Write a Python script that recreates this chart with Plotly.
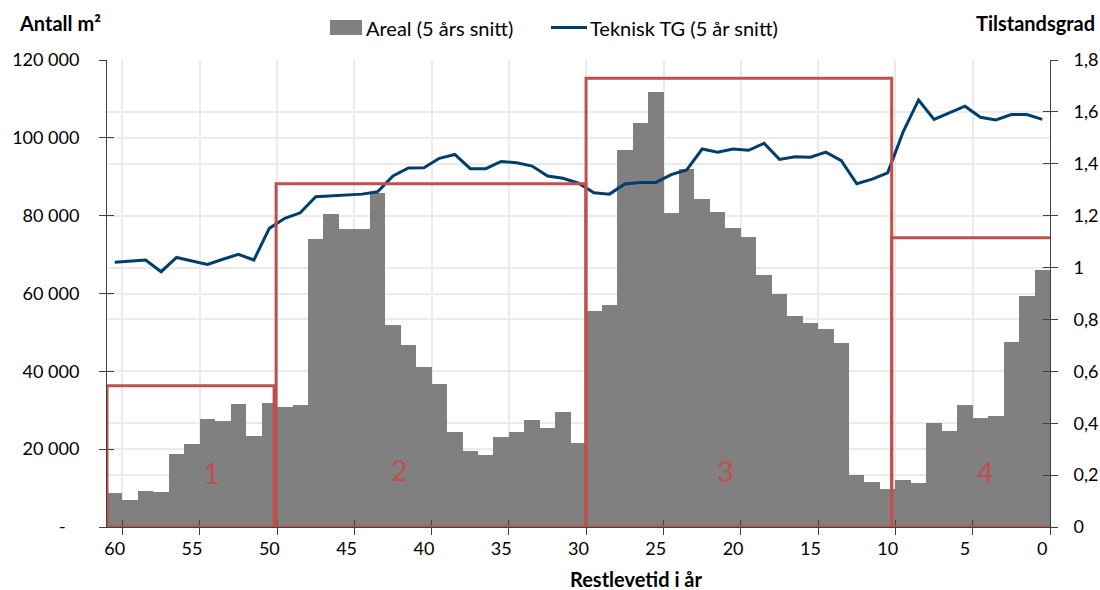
import plotly.graph_objects as go

# ---------------- data ----------------
years = list(range(60, -1, -1))  # Restlevetid i år, 60 .. 0

areal = [8700, 7000, 9250, 9000, 18800, 21300, 27700, 27200, 31500, 23400,
         31800, 30800, 31300, 73900, 80400, 76700, 76500, 85900, 51800, 46800,
         41000, 36800, 24400, 19600, 18500, 23200, 24400, 27500, 25400, 29500,
         21600, 55600, 57000, 96800, 103700, 111700, 80800, 91900, 84300, 80900,
         76800, 74500, 64700, 60000, 54100, 52300, 50800, 47200, 13400, 11600,
         9850, 12100, 11400, 26600, 24600, 31400, 28100, 28400, 47500, 59300,
         66000]

tg = [1.020, 1.025, 1.029, 0.984, 1.039, 1.025, 1.012, 1.032, 1.051, 1.029,
      1.151, 1.190, 1.211, 1.273, 1.276, 1.280, 1.283, 1.292, 1.353, 1.384,
      1.385, 1.421, 1.436, 1.381, 1.381, 1.409, 1.404, 1.391, 1.353, 1.344,
      1.325, 1.288, 1.283, 1.322, 1.328, 1.328, 1.358, 1.376, 1.457, 1.445,
      1.457, 1.452, 1.479, 1.417, 1.427, 1.425, 1.445, 1.412, 1.323, 1.341,
      1.365, 1.523, 1.646, 1.571, 1.598, 1.622, 1.579, 1.569, 1.590, 1.590,
      1.571]

x_tick_vals = list(range(60, -1, -5))
x_tick_text = [str(v) for v in x_tick_vals]
x_boundaries = [v - 0.5 for v in x_tick_vals]

y_left_vals = [0, 20000, 40000, 60000, 80000, 100000, 120000]
y_left_text = ["-\u00a0\u00a0\u00a0", "20 000", "40 000", "60 000", "80 000", "100 000", "120 000"]
y_right_vals = [0, 0.2, 0.4, 0.6, 0.8, 1.0, 1.2, 1.4, 1.6, 1.8]
y_right_text = ["0", "0,2", "0,4", "0,6", "0,8", "1", "1,2", "1,4", "1,6", "1,8"]

# region boxes (x in years, top in m²)
region_names = ["1", "2", "3", "4"]
region_x0 = [60.5, 49.56, 29.51, 9.74]
region_x1 = [49.69, 29.53, 9.74, -0.61]
region_top = [36300, 88200, 115300, 74300]
region_label_x = [53.77, 41.59, 20.48, 3.70]
region_label_y = [14100, 14900, 14400, 14200]

# ---------------- styling ----------------
FONT = "Lato"
BAR_COLOR = "#808080"
LINE_COLOR = "#003e6b"
RED = "#c0504d"
GRID = "#ebebeb"
AXIS = "#404040"

L, R, T, B = 107, 1050, 60, 527
W, H = 1100, 590


def px(p):
    return (p - L) / (R - L)


def py(p):
    return (B - p) / (B - T)


fig = go.Figure()

fig.add_trace(go.Bar(x=years, y=areal, width=1, marker=dict(color=BAR_COLOR, line=dict(width=0)),
                     name="Areal (5 års snitt)", showlegend=False, xaxis="x", yaxis="y"))
fig.add_trace(go.Scatter(x=years, y=tg, mode="lines", line=dict(color=LINE_COLOR, width=3),
                         name="Teknisk TG (5 år snitt)", showlegend=False, xaxis="x", yaxis="y2"))
# helper traces so that the overlay axes (inner halves of the crossing ticks) are drawn
fig.add_trace(go.Scatter(x=[None], y=[None], xaxis="x2", yaxis="y3", showlegend=False, hoverinfo="skip"))
fig.add_trace(go.Scatter(x=[None], y=[None], xaxis="x2", yaxis="y4", showlegend=False, hoverinfo="skip"))

xr = [60.5, -0.5]
tickfont = dict(family=FONT, size=18, color="#000000")

fig.update_layout(
    width=W, height=H,
    margin=dict(l=L, r=W - R, t=T, b=H - B, autoexpand=False),
    paper_bgcolor="white", plot_bgcolor="white",
    bargap=0, showlegend=False,
    font=dict(family=FONT, color="#000000"),
    xaxis=dict(range=xr, tickmode="array", tickvals=x_tick_vals, ticktext=x_tick_text,
               ticks="", showgrid=False, zeroline=False, showline=True, linecolor=AXIS, linewidth=1,
               tickfont=tickfont, ticklabelstandoff=5, automargin=False,
               minor=dict(tickmode="array", tickvals=x_boundaries, ticks="outside", ticklen=7,
                          tickcolor=AXIS, tickwidth=1, showgrid=True, gridcolor=GRID, gridwidth=1.5)),
    xaxis2=dict(range=xr, overlaying="x", anchor="y", tickmode="array", tickvals=x_boundaries,
                ticks="inside", ticklen=7, tickcolor=AXIS, showticklabels=False, showgrid=False,
                zeroline=False, showline=False, automargin=False),
    yaxis=dict(range=[0, 120000], tickmode="array", tickvals=y_left_vals, ticktext=y_left_text,
               ticks="outside", ticklen=7, tickcolor=AXIS, showline=True, linecolor=AXIS,
               showgrid=True, gridcolor=GRID, gridwidth=1.5, zeroline=False,
               tickfont=tickfont, ticklabelstandoff=16, automargin=False),
    yaxis2=dict(range=[0, 1.8], overlaying="y", side="right", anchor="x", tickmode="array",
                tickvals=y_right_vals, ticktext=y_right_text, ticks="outside", ticklen=7,
                tickcolor=AXIS, showline=True, linecolor=AXIS, showgrid=True, gridcolor=GRID,
                gridwidth=1.5, zeroline=False, tickfont=tickfont, ticklabelstandoff=12,
                automargin=False),
    yaxis3=dict(range=[0, 120000], overlaying="y", side="left", anchor="x2", tickmode="array",
                tickvals=y_left_vals, ticks="inside", ticklen=7, tickcolor=AXIS,
                showticklabels=False, showgrid=False, zeroline=False, showline=False, automargin=False),
    yaxis4=dict(range=[0, 1.8], overlaying="y", side="right", anchor="x2", tickmode="array",
                tickvals=y_right_vals, ticks="inside", ticklen=7, tickcolor=AXIS,
                showticklabels=False, showgrid=False, zeroline=False, showline=False, automargin=False),
)

shapes = []
annotations = []
for name, x0, x1, top, lx, ly in zip(region_names, region_x0, region_x1, region_top,
                                     region_label_x, region_label_y):
    shapes.append(dict(type="rect", xref="x", yref="y", x0=x0, x1=x1, y0=0, y1=top,
                       line=dict(color=RED, width=3), fillcolor="rgba(0,0,0,0)", layer="above"))
    annotations.append(dict(text=name, xref="x", yref="y", x=lx, y=ly, showarrow=False,
                            font=dict(family=FONT, size=29, color=RED)))

# custom legend
shapes.append(dict(type="rect", xref="paper", yref="paper", x0=px(330), x1=px(362),
                   y0=py(35), y1=py(20), fillcolor=BAR_COLOR, line=dict(width=0)))
shapes.append(dict(type="line", xref="paper", yref="paper", x0=px(551), x1=px(587),
                   y0=py(27.5), y1=py(27.5), line=dict(color=LINE_COLOR, width=3)))
annotations.append(dict(text="Areal (5 års snitt)", xref="paper", yref="paper", x=px(364), y=py(28),
                        xanchor="left", yanchor="middle", showarrow=False,
                        font=dict(family=FONT, size=20, color="#000000")))
annotations.append(dict(text="Teknisk TG (5 år snitt)", xref="paper", yref="paper", x=px(588), y=py(28),
                        xanchor="left", yanchor="middle", showarrow=False,
                        font=dict(family=FONT, size=20, color="#000000")))

# axis titles
annotations.append(dict(text="<b>Antall m²</b>", xref="paper", yref="paper", x=px(60), y=py(23),
                        xanchor="center", yanchor="middle", showarrow=False,
                        font=dict(family=FONT, size=20, color="#000000")))
annotations.append(dict(text="<b>Tilstandsgrad</b>", xref="paper", yref="paper", x=px(1035), y=py(23),
                        xanchor="center", yanchor="middle", showarrow=False,
                        font=dict(family=FONT, size=20, color="#000000")))
annotations.append(dict(text="<b>Restlevetid i år</b>", xref="paper", yref="paper", x=px(636), y=py(579),
                        xanchor="center", yanchor="middle", showarrow=False,
                        font=dict(family=FONT, size=20, color="#000000")))

fig.update_layout(shapes=shapes, annotations=annotations)

fig.write_html("out.html")
